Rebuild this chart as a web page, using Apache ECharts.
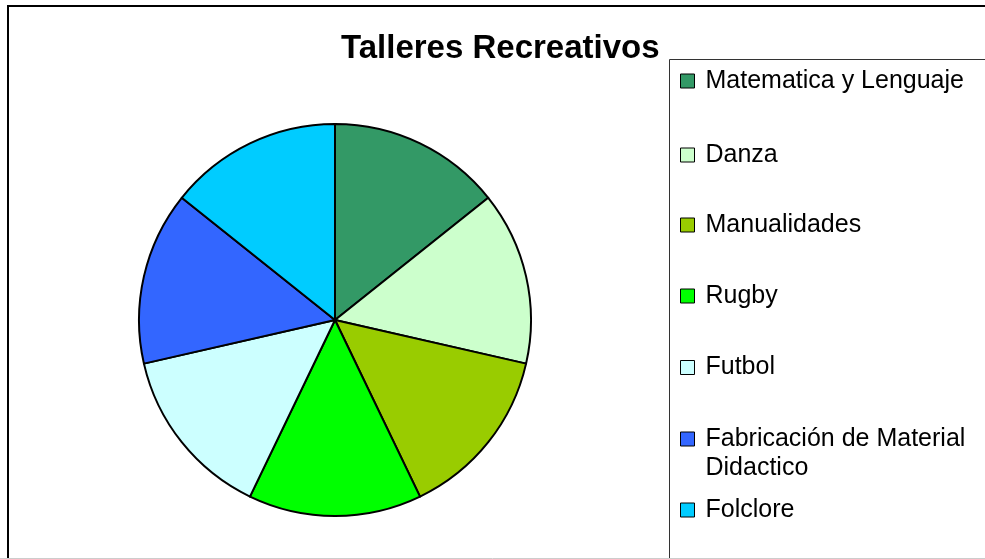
<!DOCTYPE html>
<html>
<head>
<meta charset="utf-8">
<script src="https://cdn.jsdelivr.net/npm/echarts@6/dist/echarts.min.js"></script>
<style>
html,body{margin:0;padding:0;background:#fff;}
#chart{width:985px;height:559px;}
</style>
</head>
<body>
<div id="chart"></div>
<script>
const categories = ['Matematica y Lenguaje','Danza','Manualidades','Rugby','Futbol','Fabricación de Material Didactico','Folclore'];
const values = [1,1,1,1,1,1,1];
const colors = ['#339966','#CCFFCC','#99CC00','#00FF00','#CCFFFF','#3366FF','#00CCFF'];
const legendLabels = ['Matematica y Lenguaje','Danza','Manualidades','Rugby','Futbol','\nFabricación de Material\nDidactico','Folclore'];
const legendTops = [66.5,140.5,210.5,281.5,353,395.5,495.5];

const FONT = '"Liberation Sans", Arial, Helvetica, sans-serif';
const chart = echarts.init(document.getElementById('chart'), null, {renderer:'canvas'});

const legends = categories.map((name,i)=>({
  data:[name],
  orient:'vertical',
  left:680,
  top:legendTops[i],
  padding:0,
  itemWidth:14,
  itemHeight:14,
  icon:'rect',
  selectedMode:false,
  itemStyle:{borderColor:'#000',borderWidth:1},
  formatter:(n)=>legendLabels[categories.indexOf(n)],
  textStyle:{fontFamily:FONT,fontSize:25,color:'#000',lineHeight:29,padding:[0,0,0,6]}
}));

chart.setOption({
  backgroundColor:'#fff',
  animation:false,
  title:{
    text:'Talleres Recreativos',
    left:341, top:32, padding:0,
    textStyle:{fontFamily:FONT,fontSize:33,fontWeight:'bold',color:'#000'}
  },
  legend:legends,
  graphic:[
    {type:'rect',shape:{x:8,y:6,width:1000,height:600},style:{fill:'none',stroke:'#000',lineWidth:2},silent:true},
    {type:'rect',shape:{x:669.5,y:59.5,width:400,height:600},style:{fill:'none',stroke:'#333',lineWidth:1},silent:true},
    {type:'line',shape:{x1:0,y1:558.5,x2:985,y2:558.5},style:{stroke:'#ccc',lineWidth:1},silent:true}
  ],
  series:[{
    type:'pie',
    center:[335,320],
    radius:196,
    startAngle:90,
    clockwise:true,
    label:{show:false},
    labelLine:{show:false},
    emphasis:{disabled:true},
    itemStyle:{borderColor:'#000',borderWidth:2},
    data:categories.map((c,i)=>({name:c,value:values[i],itemStyle:{color:colors[i]}}))
  }]
});
</script>
</body>
</html>
